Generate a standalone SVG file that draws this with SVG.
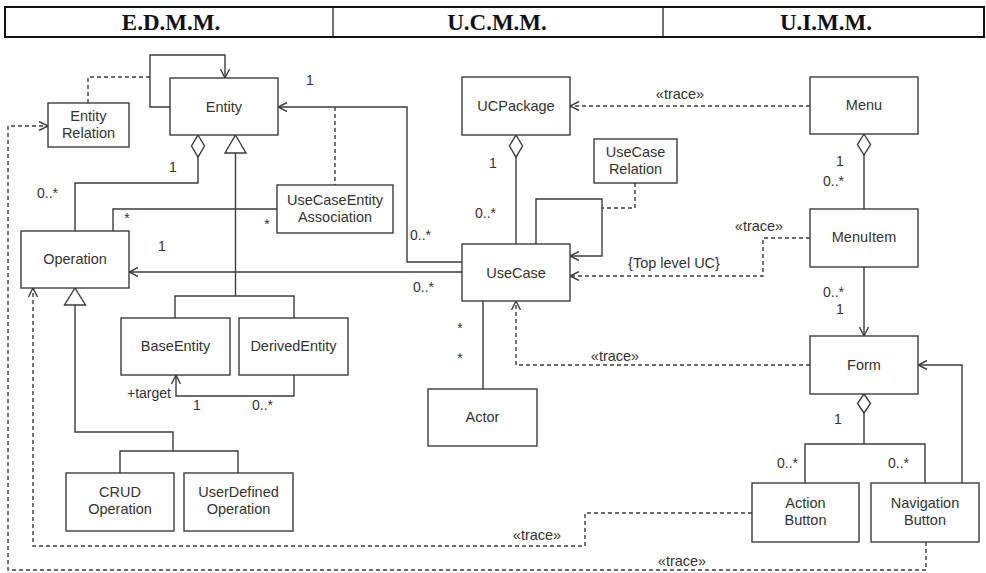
<svg xmlns="http://www.w3.org/2000/svg" width="986" height="573" viewBox="0 0 986 573">
<style>
.box{fill:#fff;stroke:#3c3c3c;stroke-width:1.4}
.t{font-family:"Liberation Sans",Arial,sans-serif;font-size:14.5px;fill:#333;text-anchor:middle}
.l{font-family:"Liberation Sans",Arial,sans-serif;font-size:14px;fill:#333}
.ln{fill:none;stroke:#3c3c3c;stroke-width:1.4}
.ds{fill:none;stroke:#3c3c3c;stroke-width:1.4;stroke-dasharray:4 3}
.sym{fill:#fff;stroke:#3c3c3c;stroke-width:1.4}
.h{font-family:"Liberation Serif","Times New Roman",serif;font-size:23px;font-weight:bold;fill:#111;text-anchor:middle}
</style>
<defs>
<marker id="oa" viewBox="0 0 10 10" refX="10" refY="5" markerWidth="10" markerHeight="10" markerUnits="userSpaceOnUse" orient="auto">
<path d="M1,0.5 L10,5 L1,9.5" fill="none" stroke="#3c3c3c" stroke-width="1.4" stroke-dasharray="none"/>
</marker>
</defs>
<rect width="986" height="573" fill="#fff"/>
<g id="header">
<rect x="5" y="7" width="979" height="30" fill="none" stroke="#111" stroke-width="2"/>
<line x1="333" y1="7" x2="333" y2="37" stroke="#111" stroke-width="1.2"/>
<line x1="663" y1="7" x2="663" y2="37" stroke="#111" stroke-width="1.2"/>
<text class="h" x="171" y="30">E.D.M.M.</text>
<text class="h" x="497" y="30">U.C.M.M.</text>
<text class="h" x="826" y="30">U.I.M.M.</text>
</g>
<g id="connectors">
<path class="ln" d="M170,107 H150 V55 H225 V78" marker-end="url(#oa)"/>
<path class="ds" d="M88,103 V77 H150"/>
<path class="ln" d="M198,157 V183 H75 V231"/>
<polygon class="sym" points="198,135 204.5,146 198,157 191.5,146"/>
<path class="ln" d="M235.5,153 V296 M175,318 V296 H294 V318"/>
<polygon class="sym" points="235.5,135 246,153 225,153"/>
<path class="ln" d="M294,375 V396 H176 V375" marker-end="url(#oa)"/>
<path class="ln" d="M75,305 V432 H173 V451 M120,473 V451 H238 V473"/>
<polygon class="sym" points="75,288 85.5,305 64.5,305"/>
<path class="ln" d="M462,262 H407 V107 H278" marker-end="url(#oa)"/>
<path class="ds" d="M335,107 V185"/>
<path class="ln" d="M277,209 H113 V231"/>
<path class="ln" d="M462,272 H129" marker-end="url(#oa)"/>
<path class="ln" d="M516,157 V244"/>
<polygon class="sym" points="516,135 522.5,146 516,157 509.5,146"/>
<path class="ln" d="M536,244 V199 H602 V256 H570" marker-end="url(#oa)"/>
<path class="ds" d="M635,183 V208 H602"/>
<path class="ln" d="M483,301 V389"/>
<path class="ds" d="M810,106 H570" marker-end="url(#oa)"/>
<path class="ln" d="M864,155 V209"/>
<polygon class="sym" points="864,134 870.5,144.5 864,155 857.5,144.5"/>
<path class="ds" d="M810,238 H763 V276 H570" marker-end="url(#oa)"/>
<path class="ln" d="M864,267 V336" marker-end="url(#oa)"/>
<path class="ds" d="M810,365 H516 V301" marker-end="url(#oa)"/>
<path class="ln" d="M864,413 V444 M805,483 V444 H925 V483"/>
<polygon class="sym" points="864,394 870.5,403.5 864,413 857.5,403.5"/>
<path class="ln" d="M962,483 V365 H918" marker-end="url(#oa)"/>
<path class="ds" d="M752,513 H585 V546 H33 V288" marker-end="url(#oa)"/>
<path class="ds" d="M926,542 V570 H8 V126 H48" marker-end="url(#oa)"/>
<text class="l" x="37" y="198">0..*</text>
<text class="l" x="173" y="172" text-anchor="middle">1</text>
<text class="l" x="310" y="85" text-anchor="middle">1</text>
<text class="l" x="410" y="240">0..*</text>
<text class="l" x="413" y="292">0..*</text>
<text class="l" x="162" y="251" text-anchor="middle">1</text>
<text class="l" x="127" y="223" text-anchor="middle">*</text>
<text class="l" x="267" y="229" text-anchor="middle">*</text>
<text class="l" x="171" y="398" text-anchor="end">+target</text>
<text class="l" x="197" y="410" text-anchor="middle">1</text>
<text class="l" x="252" y="410">0..*</text>
<text class="l" x="493" y="168" text-anchor="middle">1</text>
<text class="l" x="475" y="218">0..*</text>
<text class="l" x="460" y="333" text-anchor="middle">*</text>
<text class="l" x="460" y="363" text-anchor="middle">*</text>
<text class="l" x="840" y="166" text-anchor="middle">1</text>
<text class="l" x="823" y="186">0..*</text>
<text class="l" x="823" y="297">0..*</text>
<text class="l" x="840" y="314" text-anchor="middle">1</text>
<text class="l" x="838" y="424" text-anchor="middle">1</text>
<text class="l" x="777" y="468">0..*</text>
<text class="l" x="888" y="468">0..*</text>
<text class="t" x="680" y="99">«trace»</text>
<text class="t" x="759" y="231">«trace»</text>
<text class="t" x="674" y="268">{Top level UC}</text>
<text class="t" x="615" y="361">«trace»</text>
<text class="t" x="537" y="540">«trace»</text>
<text class="t" x="682" y="566">«trace»</text>
</g>
<g id="Entity"><rect class="box" x="170" y="78" width="108" height="57"/><text class="t" x="224" y="112">Entity</text></g>
<g id="EntityRelation"><rect class="box" x="48" y="103" width="81" height="44"/><text class="t" x="88.5" y="121">Entity</text><text class="t" x="88.5" y="138">Relation</text></g>
<g id="Operation"><rect class="box" x="21" y="231" width="108" height="57"/><text class="t" x="75" y="264">Operation</text></g>
<g id="UseCaseEntityAssociation"><rect class="box" x="277" y="185" width="116" height="48"/><text class="t" x="335" y="205">UseCaseEntity</text><text class="t" x="335" y="222">Association</text></g>
<g id="BaseEntity"><rect class="box" x="121" y="318" width="109" height="57"/><text class="t" x="175.5" y="351">BaseEntity</text></g>
<g id="DerivedEntity"><rect class="box" x="239" y="318" width="109" height="57"/><text class="t" x="293.5" y="351">DerivedEntity</text></g>
<g id="CRUDOperation"><rect class="box" x="66" y="473" width="108" height="58"/><text class="t" x="120" y="497">CRUD</text><text class="t" x="120" y="514">Operation</text></g>
<g id="UserDefinedOperation"><rect class="box" x="184" y="473" width="109" height="58"/><text class="t" x="238.5" y="497">UserDefined</text><text class="t" x="238.5" y="514">Operation</text></g>
<g id="UCPackage"><rect class="box" x="462" y="77" width="108" height="58"/><text class="t" x="516" y="111">UCPackage</text></g>
<g id="UseCaseRelation"><rect class="box" x="594" y="139" width="83" height="44"/><text class="t" x="635.5" y="157">UseCase</text><text class="t" x="635.5" y="174">Relation</text></g>
<g id="UseCase"><rect class="box" x="462" y="244" width="108" height="57"/><text class="t" x="516" y="278">UseCase</text></g>
<g id="Actor"><rect class="box" x="428" y="389" width="109" height="57"/><text class="t" x="482.5" y="422">Actor</text></g>
<g id="Menu"><rect class="box" x="810" y="77" width="108" height="57"/><text class="t" x="864" y="110">Menu</text></g>
<g id="MenuItem"><rect class="box" x="810" y="209" width="108" height="58"/><text class="t" x="864" y="242">MenuItem</text></g>
<g id="Form"><rect class="box" x="810" y="336" width="108" height="58"/><text class="t" x="864" y="370">Form</text></g>
<g id="ActionButton"><rect class="box" x="752" y="483" width="107" height="59"/><text class="t" x="805.5" y="508">Action</text><text class="t" x="805.5" y="525">Button</text></g>
<g id="NavigationButton"><rect class="box" x="871" y="483" width="108" height="59"/><text class="t" x="925" y="508">Navigation</text><text class="t" x="925" y="525">Button</text></g>
</svg>
